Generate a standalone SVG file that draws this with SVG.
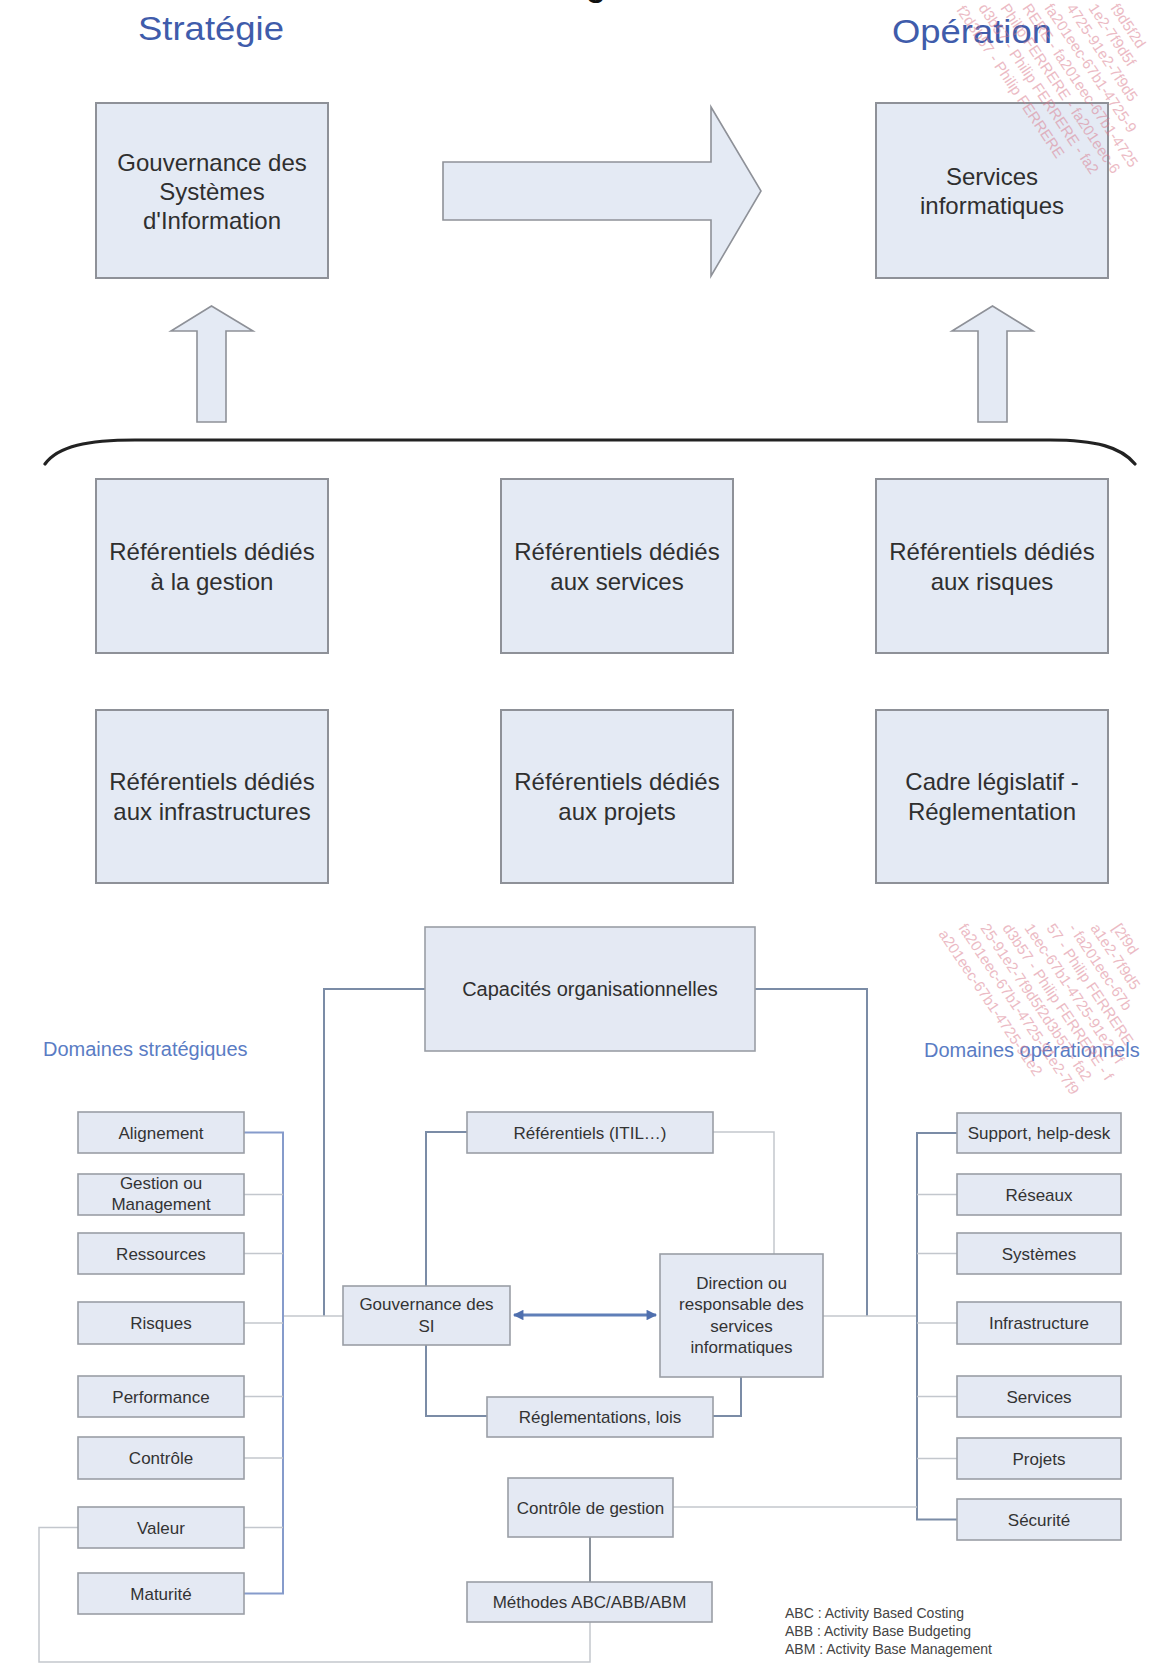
<svg xmlns="http://www.w3.org/2000/svg" width="1154" height="1668" viewBox="0 0 1154 1668">
  <style>
    text{font-family:"Liberation Sans",Arial,Helvetica,sans-serif;fill:#2f2f2f;text-anchor:middle}
    .big{fill:#e4eaf4;stroke:#8e9198;stroke-width:2}
    .sm{fill:#e4e9f3;stroke:#9a9ea6;stroke-width:1.6}
    .arr{fill:#e4eaf4;stroke:#8e9198;stroke-width:1.6;stroke-linejoin:miter}
    .t24{font-size:24px}
    .t20{font-size:20px}
    .t17{font-size:17px;fill:#333}
    .title{font-size:34px;fill:#3f5cab;text-anchor:start}
    .dom{font-size:20px;fill:#5a7cc4;text-anchor:start}
    .legend{font-size:14px;fill:#444;text-anchor:start}
    .bus{fill:none;stroke:#869bcb;stroke-width:2}
    .dk{fill:none;stroke:#7b8ca6;stroke-width:2}
    .lt{fill:none;stroke:#c3c7cd;stroke-width:1.5}
    .both{fill:none;stroke:#5f7fb8;stroke-width:3}
    .wm{font-size:15px;fill:#d9778a;opacity:.5;text-anchor:start}
  </style>
  <defs>
    <marker id="head" viewBox="0 0 10 10" refX="9" refY="5" markerWidth="4.5" markerHeight="3.5" orient="auto-start-reverse" markerUnits="strokeWidth">
      <path d="M0,0 L10,5 L0,10 z" fill="#4f6fae"/>
    </marker>
  </defs>

  <rect width="1154" height="1668" fill="#ffffff"/>

  <!-- descender of a line of text cut at the top edge -->
  <text x="596" y="-4" style="font-size:32px;font-weight:bold;fill:#111">g</text>

  <!-- column titles -->
  <text class="title" x="138" y="40" textLength="146" lengthAdjust="spacingAndGlyphs">Stratégie</text>
  <text class="title" x="892" y="43" textLength="160" lengthAdjust="spacingAndGlyphs">Opération</text>

  <!-- upper part: governance and services -->
  <g id="gouvernance-si">
    <rect class="big" x="96" y="103" width="232" height="175"/>
    <text class="t24" x="212" y="171">Gouvernance des</text>
    <text class="t24" x="212" y="200">Systèmes</text>
    <text class="t24" x="212" y="229">d'Information</text>
  </g>
  <g id="services-informatiques">
    <rect class="big" x="876" y="103" width="232" height="175"/>
    <text class="t24" x="992" y="185">Services</text>
    <text class="t24" x="992" y="214">informatiques</text>
  </g>

  <g id="block-arrows">
    <polygon class="arr" points="443,162 711,162 711,107 761,191 711,276 711,220 443,220"/>
    <polygon class="arr" points="197,422 197,331 171,331 211.5,306 253,331 226,331 226,422"/>
    <polygon class="arr" points="978,422 978,331 952,331 992.5,306 1033,331 1007,331 1007,422"/>
    <path d="M45,464 C58,446 88,440 135,440 L1050,440 C1096,440 1121,447 1135,464" fill="none" stroke="#222" stroke-width="3.2" stroke-linecap="round"/>
  </g>

  <!-- reference frameworks -->
  <g id="ref-gestion">
    <rect class="big" x="96" y="479" width="232" height="174"/>
    <text class="t24" x="212" y="560">Référentiels dédiés</text>
    <text class="t24" x="212" y="590">à la gestion</text>
  </g>
  <g id="ref-services">
    <rect class="big" x="501" y="479" width="232" height="174"/>
    <text class="t24" x="617" y="560">Référentiels dédiés</text>
    <text class="t24" x="617" y="590">aux services</text>
  </g>
  <g id="ref-risques">
    <rect class="big" x="876" y="479" width="232" height="174"/>
    <text class="t24" x="992" y="560">Référentiels dédiés</text>
    <text class="t24" x="992" y="590">aux risques</text>
  </g>
  <g id="ref-infrastructures">
    <rect class="big" x="96" y="710" width="232" height="173"/>
    <text class="t24" x="212" y="790">Référentiels dédiés</text>
    <text class="t24" x="212" y="820">aux infrastructures</text>
  </g>
  <g id="ref-projets">
    <rect class="big" x="501" y="710" width="232" height="173"/>
    <text class="t24" x="617" y="790">Référentiels dédiés</text>
    <text class="t24" x="617" y="820">aux projets</text>
  </g>
  <g id="cadre-legislatif">
    <rect class="big" x="876" y="710" width="232" height="173"/>
    <text class="t24" x="992" y="790">Cadre législatif -</text>
    <text class="t24" x="992" y="820">Réglementation</text>
  </g>

  <!-- lower part: connectors -->
  <g id="connectors">
    <path class="dk" d="M425,989 H324 V1316"/>
    <path class="dk" d="M755,989 H867 V1316"/>
    <path class="lt" d="M343,1316 H283"/>
    <path class="lt" d="M823,1316 H917"/>
    <path class="bus" d="M244,1132.5 H283 V1593.5 H244"/>
    <path class="lt" d="M244,1194.5 H283 M244,1253.5 H283 M244,1323 H283 M244,1396.5 H283 M244,1458 H283 M244,1527.5 H283"/>
    <path class="dk" d="M957,1133 H917 V1519.5 H957"/>
    <path class="lt" d="M917,1194.5 H957 M917,1253.5 H957 M917,1323 H957 M917,1396.5 H957 M917,1458.5 H957"/>
    <path class="dk" d="M426,1286 V1132 H467"/>
    <path class="lt" d="M713,1132 H774 V1254"/>
    <path class="dk" d="M426,1345 V1416 H487"/>
    <path class="dk" d="M713,1416 H741 V1377"/>
    <path class="both" d="M514,1315 H656" marker-start="url(#head)" marker-end="url(#head)"/>
    <path class="lt" d="M673,1507 H917"/>
    <path class="dk" d="M590,1537 V1583" style="stroke:#8a929c"/>
    <path class="lt" d="M590,1622 V1662 H39 V1527.5 H78"/>
  </g>

  <!-- lower part: nodes -->
  <g id="capacites">
    <rect class="sm" x="425" y="927" width="330" height="124"/>
    <text class="t20" x="590" y="996">Capacités organisationnelles</text>
  </g>
  <text class="dom" x="43" y="1056">Domaines stratégiques</text>
  <text class="dom" x="924" y="1057">Domaines opérationnels</text>

  <g id="alignement"><rect class="sm" x="78" y="1112" width="166" height="41"/><text class="t17" x="161" y="1138.5">Alignement</text></g>
  <g id="gestion"><rect class="sm" x="78" y="1174" width="166" height="41"/><text class="t17" x="161" y="1189">Gestion ou</text><text class="t17" x="161" y="1210">Management</text></g>
  <g id="ressources"><rect class="sm" x="78" y="1233" width="166" height="41"/><text class="t17" x="161" y="1259.5">Ressources</text></g>
  <g id="risques"><rect class="sm" x="78" y="1302" width="166" height="42"/><text class="t17" x="161" y="1329">Risques</text></g>
  <g id="performance"><rect class="sm" x="78" y="1376" width="166" height="41"/><text class="t17" x="161" y="1402.5">Performance</text></g>
  <g id="controle"><rect class="sm" x="78" y="1437" width="166" height="42"/><text class="t17" x="161" y="1464">Contrôle</text></g>
  <g id="valeur"><rect class="sm" x="78" y="1507" width="166" height="41"/><text class="t17" x="161" y="1533.5">Valeur</text></g>
  <g id="maturite"><rect class="sm" x="78" y="1573" width="166" height="41"/><text class="t17" x="161" y="1599.5">Maturité</text></g>

  <g id="support"><rect class="sm" x="957" y="1113" width="164" height="40"/><text class="t17" x="1039" y="1139">Support, help-desk</text></g>
  <g id="reseaux"><rect class="sm" x="957" y="1174" width="164" height="41"/><text class="t17" x="1039" y="1200.5">Réseaux</text></g>
  <g id="systemes"><rect class="sm" x="957" y="1233" width="164" height="41"/><text class="t17" x="1039" y="1259.5">Systèmes</text></g>
  <g id="infrastructure"><rect class="sm" x="957" y="1302" width="164" height="42"/><text class="t17" x="1039" y="1329">Infrastructure</text></g>
  <g id="services"><rect class="sm" x="957" y="1376" width="164" height="41"/><text class="t17" x="1039" y="1402.5">Services</text></g>
  <g id="projets"><rect class="sm" x="957" y="1438" width="164" height="41"/><text class="t17" x="1039" y="1464.5">Projets</text></g>
  <g id="securite"><rect class="sm" x="957" y="1499" width="164" height="41"/><text class="t17" x="1039" y="1525.5">Sécurité</text></g>

  <g id="referentiels-itil"><rect class="sm" x="467" y="1112" width="246" height="41"/><text class="t17" x="590" y="1138.5">Référentiels (ITIL…)</text></g>
  <g id="gouvernance-des-si"><rect class="sm" x="343" y="1286" width="167" height="59"/><text class="t17" x="426.5" y="1310">Gouvernance des</text><text class="t17" x="426.5" y="1332">SI</text></g>
  <g id="direction"><rect class="sm" x="660" y="1254" width="163" height="123"/>
    <text class="t17" x="741.5" y="1289">Direction ou</text>
    <text class="t17" x="741.5" y="1310">responsable des</text>
    <text class="t17" x="741.5" y="1332">services</text>
    <text class="t17" x="741.5" y="1353">informatiques</text>
  </g>
  <g id="reglementations"><rect class="sm" x="487" y="1397" width="226" height="40"/><text class="t17" x="600" y="1423">Réglementations, lois</text></g>
  <g id="controle-gestion"><rect class="sm" x="508" y="1478" width="165" height="59"/><text class="t17" x="590.5" y="1513.5">Contrôle de gestion</text></g>
  <g id="methodes"><rect class="sm" x="467" y="1582" width="245" height="40"/><text class="t17" x="589.5" y="1608">Méthodes ABC/ABB/ABM</text></g>

  <g id="legend">
    <text class="legend" x="785" y="1618">ABC : Activity Based Costing</text>
    <text class="legend" x="785" y="1636">ABB : Activity Base Budgeting</text>
    <text class="legend" x="785" y="1654">ABM : Activity Base Management</text>
  </g>

  <!-- diagonal watermark text, upper right -->
  <g id="watermark-top">
    <text class="wm" transform="translate(1110,8) rotate(56)">f9d5f2d</text>
    <text class="wm" transform="translate(1088,8) rotate(56)">1e2-7f9d5f</text>
    <text class="wm" transform="translate(1066,8) rotate(56)">4725-91e2-7f9d5</text>
    <text class="wm" transform="translate(1044,8) rotate(56)">fa201eec-67b1-4725-9</text>
    <text class="wm" transform="translate(1022,8) rotate(56)">RERE - fa201eec-67b1-4725</text>
    <text class="wm" transform="translate(1000,8) rotate(56)">Philip FERRERE - fa201eec-6</text>
    <text class="wm" transform="translate(978,8) rotate(56)">d3b57 - Philip FERRERE - fa2</text>
    <text class="wm" transform="translate(956,10) rotate(56)">f2d3b57 - Philip FERRERE</text>
  </g>
  <!-- diagonal watermark text, middle right -->
  <g id="watermark-mid">
    <text class="wm" transform="translate(1112,928) rotate(56)">[2f9d</text>
    <text class="wm" transform="translate(1090,928) rotate(56)">a1e2-7f9d5</text>
    <text class="wm" transform="translate(1068,928) rotate(56)">- fa201eec-67b</text>
    <text class="wm" transform="translate(1046,928) rotate(56)">57 - Philip FERRERE</text>
    <text class="wm" transform="translate(1024,928) rotate(56)">1eec-67b1-4725-91e2-7f</text>
    <text class="wm" transform="translate(1002,928) rotate(56)">d3b57 - Philip FERRERE - f</text>
    <text class="wm" transform="translate(980,928) rotate(56)">25-91e2-7f9d5f2d3b57 - fa2</text>
    <text class="wm" transform="translate(958,928) rotate(56)">fa201eec-67b1-4725-91e2-7f9</text>
    <text class="wm" transform="translate(938,934) rotate(56)">a201eec-67b1-4725-91e2</text>
  </g>
</svg>
